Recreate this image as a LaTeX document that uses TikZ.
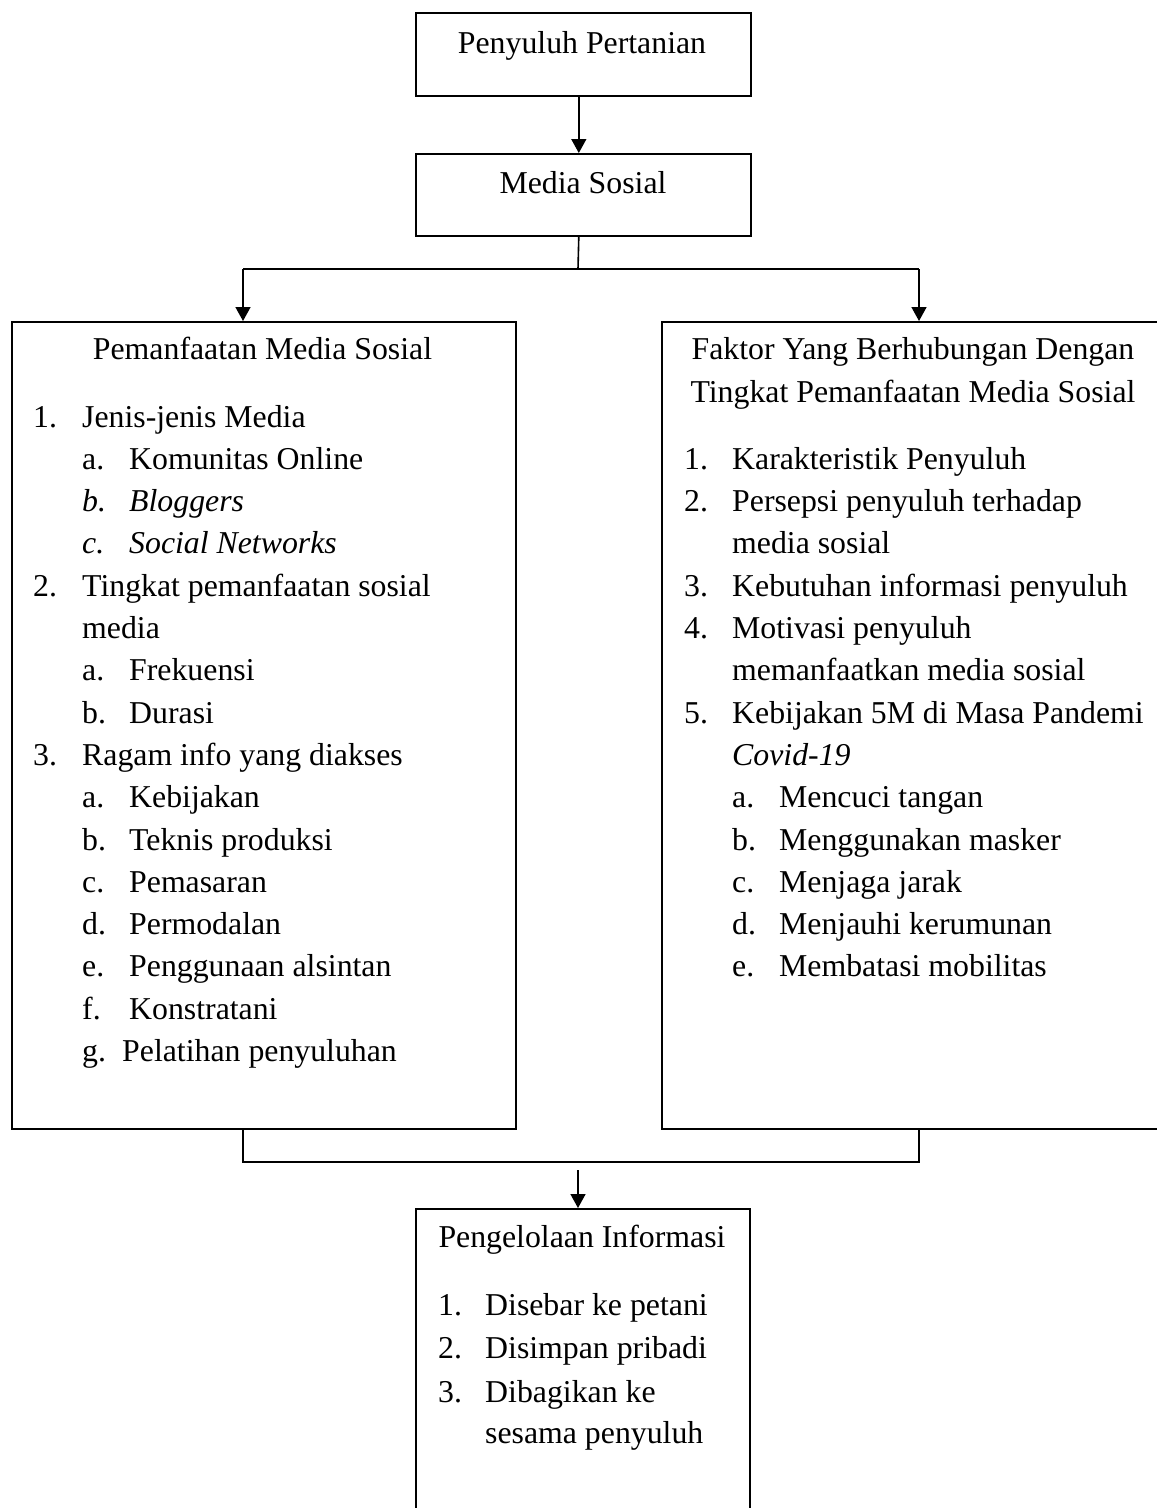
\documentclass[tikz,border=0pt]{standalone}
\usepackage{fontspec}
\setmainfont{Liberation Serif}
\usetikzlibrary{arrows.meta}
\tikzset{
  x=1pt, y=-1pt,
  box/.style={draw, line width=1.6pt, inner sep=0pt, anchor=north west},
  txt/.style={inner sep=0pt, anchor=base west, font=\fontsize{31.8}{38}\selectfont},
  ctxt/.style={inner sep=0pt, anchor=base, font=\fontsize{31.8}{38}\selectfont},
  line/.style={line width=1.6pt},
  arr/.style={line width=1.6pt, -{Triangle[length=14pt,width=15pt]}}
}
\begin{document}
\begin{tikzpicture}
\useasboundingbox (0,0) rectangle (1157,1508);
\clip (0,0) rectangle (1157,1508);
% boxes
\node[box, minimum width=335pt, minimum height=83pt] (b1) at (415,12) {};
\node[box, minimum width=335pt, minimum height=82pt] (b2) at (415,153) {};
\node[box, minimum width=504pt, minimum height=807pt] (bl) at (11,321) {};
\node[box, minimum width=560pt, minimum height=807pt] (br) at (661,321) {};
\node[box, minimum width=334pt, minimum height=360pt] (bb) at (415,1208) {};
% junction coordinates
\coordinate (jt) at (578,269);
\coordinate (jl) at (243,269);
\coordinate (jr) at (919,269);
\coordinate (kl) at (243,1162);
\coordinate (kr) at (919,1162);
\coordinate (km) at (578,1170);
% connectors
\draw[arr] ([xshift=-4.5pt]b1.south) -- ([xshift=-4.5pt]b2.north);
\draw[line] ([xshift=-4.5pt]b2.south) -- (jt);
\draw[line] (jl) -- (jr);
\draw[arr] (jl) -- (jl |- bl.north);
\draw[arr] (jr) -- (jr |- br.north);
\draw[line] (kl |- bl.south) -- (kl) -- (kr) -- (kr |- br.south);
\draw[arr] (km) -- (km |- bb.north);
% top texts
\node[ctxt] (t1) at (582,53) {Penyuluh Pertanian};
\node[ctxt] (t2) at (583,193) {Media Sosial};
% left box
\node[ctxt] (lt) at (262.5,359) {Pemanfaatan Media Sosial};
\node[txt] (ln1) at (33,427) {1.};   \node[txt] (lx1) at (82,427) {Jenis-jenis Media};
\node[txt] (la1) at (82,469.3) {a.}; \node[txt] (ly1) at (129,469.3) {Komunitas Online};
\node[txt] (lb1) at (82,511.6) {\itshape b.}; \node[txt] (ly2) at (129,511.6) {\itshape Bloggers};
\node[txt] (lc1) at (82,553.9) {\itshape c.}; \node[txt] (ly3) at (129,553.9) {\itshape Social Networks};
\node[txt] (ln2) at (33,596.2) {2.}; \node[txt] (lx2) at (82,596.2) {Tingkat pemanfaatan sosial};
\node[txt] (lx2b) at (82,638.5) {media};
\node[txt] (la2) at (82,680.8) {a.}; \node[txt] (ly4) at (129,680.8) {Frekuensi};
\node[txt] (lb2) at (82,723.1) {b.}; \node[txt] (ly5) at (129,723.1) {Durasi};
\node[txt] (ln3) at (33,765.4) {3.}; \node[txt] (lx3) at (82,765.4) {Ragam info yang diakses};
\node[txt] (la3) at (82,807.7) {a.}; \node[txt] (ly6) at (129,807.7) {Kebijakan};
\node[txt] (lb3) at (82,850) {b.}; \node[txt] (ly7) at (129,850) {Teknis produksi};
\node[txt] (lc3) at (82,892.3) {c.}; \node[txt] (ly8) at (129,892.3) {Pemasaran};
\node[txt] (ld3) at (82,934.6) {d.}; \node[txt] (ly9) at (129,934.6) {Permodalan};
\node[txt] (le3) at (82,976.9) {e.}; \node[txt] (ly10) at (129,976.9) {Penggunaan alsintan};
\node[txt] (lf3) at (82,1019.2) {f.}; \node[txt] (ly11) at (129,1019.2) {Konstratani};
\node[txt] (lg3) at (82,1061.5) {g.}; \node[txt] (ly12) at (122,1061.5) {Pelatihan penyuluhan};
% right box
\node[ctxt] (rt1) at (913,359) {Faktor Yang Berhubungan Dengan};
\node[ctxt] (rt2) at (913,402) {Tingkat Pemanfaatan Media Sosial};
\node[txt] (rn1) at (684,469.3) {1.}; \node[txt] (rx1) at (732,469.3) {Karakteristik Penyuluh};
\node[txt] (rn2) at (684,511.6) {2.}; \node[txt] (rx2) at (732,511.6) {Persepsi penyuluh terhadap};
\node[txt] (rx2b) at (732,553.9) {media sosial};
\node[txt] (rn3) at (684,596.2) {3.}; \node[txt] (rx3) at (732,596.2) {Kebutuhan informasi penyuluh};
\node[txt] (rn4) at (684,638.5) {4.}; \node[txt] (rx4) at (732,638.5) {Motivasi penyuluh};
\node[txt] (rx4b) at (732,680.8) {memanfaatkan media sosial};
\node[txt] (rn5) at (684,723.1) {5.}; \node[txt] (rx5) at (732,723.1) {Kebijakan 5M di Masa Pandemi};
\node[txt] (rx5b) at (732,765.4) {\itshape Covid-19};
\node[txt] (ra) at (732,807.7) {a.}; \node[txt] (ry1) at (779,807.7) {Mencuci tangan};
\node[txt] (rb) at (732,850) {b.}; \node[txt] (ry2) at (779,850) {Menggunakan masker};
\node[txt] (rc) at (732,892.3) {c.}; \node[txt] (ry3) at (779,892.3) {Menjaga jarak};
\node[txt] (rd) at (732,934.6) {d.}; \node[txt] (ry4) at (779,934.6) {Menjauhi kerumunan};
\node[txt] (re) at (732,976.9) {e.}; \node[txt] (ry5) at (779,976.9) {Membatasi mobilitas};
% bottom box
\node[ctxt] (bt) at (582,1247) {Pengelolaan Informasi};
\node[txt] (bn1) at (438,1315) {1.}; \node[txt] (bx1) at (485,1315) {Disebar ke petani};
\node[txt] (bn2) at (438,1358) {2.}; \node[txt] (bx2) at (485,1358) {Disimpan pribadi};
\node[txt] (bn3) at (438,1402) {3.}; \node[txt] (bx3) at (485,1402) {Dibagikan ke};
\node[txt] (bx3b) at (485,1443) {sesama penyuluh};
\end{tikzpicture}
\end{document}
